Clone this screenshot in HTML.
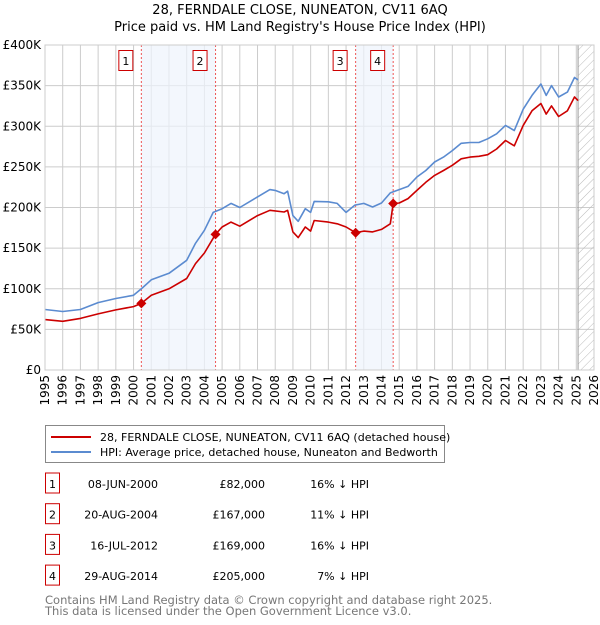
<!DOCTYPE html>
<html><head><meta charset="utf-8"><style>
body{margin:0;background:#fff;font-family:"Liberation Sans","DejaVu Sans",sans-serif;}
svg text{font-family:"DejaVu Sans","Liberation Sans",sans-serif;}
</style></head><body>
<svg id="chart" width="600" height="620" viewBox="0 0 600 620">
<text x="300" y="14" text-anchor="middle" font-size="13">28, FERNDALE CLOSE, NUNEATON, CV11 6AQ</text>
<text x="300" y="31" text-anchor="middle" font-size="13">Price paid vs. HM Land Registry's House Price Index (HPI)</text>
<g id="grid"></g>
<g id="bands"></g>
<g id="series"></g>
<g id="axes"></g>
<g id="legend">
<rect x="45.5" y="425.5" width="399" height="37" fill="#fff" stroke="#888"/>
<line x1="51" y1="437" x2="91" y2="437" stroke="#cc0000" stroke-width="2"/>
<text x="100" y="441" font-size="11">28, FERNDALE CLOSE, NUNEATON, CV11 6AQ (detached house)</text>
<line x1="51" y1="452" x2="91" y2="452" stroke="#5b8bd0" stroke-width="2"/>
<text x="100" y="456" font-size="11">HPI: Average price, detached house, Nuneaton and Bedworth</text>
</g>
<g id="table"></g>
<text x="45" y="604" font-size="11.5" fill="#777">Contains HM Land Registry data © Crown copyright and database right 2025.</text>
<text x="45" y="615" font-size="11.5" fill="#777">This data is licensed under the Open Government Licence v3.0.</text>
</svg>
<script>
const hpiYears=[1995,1996,1997,1998,1999,2000,2000.5,2001,2002,2003,2003.5,2004,2004.5,2005,2005.5,2006,2007,2007.7,2008,2008.5,2008.7,2009,2009.3,2009.7,2010,2010.2,2011,2011.5,2012,2012.5,2013,2013.5,2014,2014.5,2015,2015.5,2016,2016.5,2017,2017.5,2018,2018.5,2019,2019.5,2020,2020.5,2021,2021.5,2022,2022.5,2023,2023.3,2023.6,2024,2024.5,2024.9,2025.1];
const hpiValues=[74.5,72,74.5,83,88,92,101,111,119,135,156,172,194,198.5,205,200,213,222,221,217,220,190,183,198.5,194,207.5,207,205,194,203,205,200.6,205.5,218,222,226,237.5,245.6,256,262,270,279,280,280,284.5,290.7,301,294.8,321,338,352,338,350,336,342,360,357];
const priceYears=[1995,1996,1997,1998,1999,2000,2000.44,2001,2002,2003,2003.5,2004,2004.63,2005,2005.5,2006,2007,2007.7,2008.5,2008.7,2009,2009.3,2009.7,2010,2010.2,2011,2011.5,2012,2012.54,2013,2013.5,2014,2014.5,2014.66,2015,2015.5,2016,2016.5,2017,2017.5,2018,2018.5,2019,2019.5,2020,2020.5,2021,2021.5,2022,2022.5,2023,2023.3,2023.6,2024,2024.5,2024.9,2025.1];
const priceValues=[62,60,63.5,69,74,78,82,92,100,112.6,131,144,167,176,182,177,190,196.5,194.5,196.5,170,163,176,171,184,182,180,176,169,171,170,173,180,205,205.5,211,221,231,239.5,245.6,252,260,262,263,265,272,282.5,276,301,319,328,315,325,312,319,336,331.6];
const saleLabels=["1","2","3","4"];
const saleYears=[2000.44,2004.63,2012.54,2014.66];
const salePrices=[82,167,169,205];
const saleDates=["08-JUN-2000","20-AUG-2004","16-JUL-2012","29-AUG-2014"];
const salePriceText=["£82,000","£167,000","£169,000","£205,000"];
const saleDiffText=["16% ↓ HPI","11% ↓ HPI","16% ↓ HPI","7% ↓ HPI"];
const yTicks=[0,50,100,150,200,250,300,350,400];
const yTickLabels=["£0","£50K","£100K","£150K","£200K","£250K","£300K","£350K","£400K"];
const xTicks=[1995,1996,1997,1998,1999,2000,2001,2002,2003,2004,2005,2006,2007,2008,2009,2010,2011,2012,2013,2014,2015,2016,2017,2018,2019,2020,2021,2022,2023,2024,2025,2026];
const forecastStart=2025.1;

const NS="http://www.w3.org/2000/svg";
const X0=45,X1=594,Y0=370,Y1=45,T0=1995,T1=2026,VMAX=400;
const xs=t=>X0+(t-T0)/(T1-T0)*(X1-X0);
const ys=v=>Y0-v/VMAX*(Y0-Y1);
function mk(tag,attrs,parent){const e=document.createElementNS(NS,tag);for(const k in attrs)e.setAttribute(k,attrs[k]);parent.appendChild(e);return e;}
const grid=document.getElementById('grid'),bands=document.getElementById('bands'),series=document.getElementById('series'),axes=document.getElementById('axes'),table=document.getElementById('table');
mk('rect',{x:X0,y:Y1,width:X1-X0,height:Y0-Y1,fill:'#fff'},grid);
yTicks.forEach((v,i)=>{
 const l=mk('line',{x1:X0,x2:X1,y1:ys(v),y2:ys(v),stroke:'#ccc','stroke-width':1},grid);
 
 
 const t=mk('text',{x:X0-4,y:ys(v)+4,'text-anchor':'end','font-size':12},axes);
 t.textContent=yTickLabels[i];
 
 
});
xTicks.forEach(yr=>{
 const l=mk('line',{x1:xs(yr),x2:xs(yr),y1:Y1,y2:Y0,stroke:'#ccc','stroke-width':1},grid);
 
 
 const t=mk('text',{x:0,y:0,'text-anchor':'end','font-size':12,transform:`translate(${xs(yr)+4},${Y0+5}) rotate(-90)`},axes);
 t.textContent=yr;
 
 
});
const defs=mk('defs',{},grid);
const pat=mk('pattern',{id:'hatch',width:6,height:6,patternUnits:'userSpaceOnUse',patternTransform:'rotate(45)'},defs);
mk('line',{x1:0,y1:0,x2:0,y2:6,stroke:'#bbb','stroke-width':1},pat);
const hatch=mk('rect',{x:xs(forecastStart),y:Y1,width:X1-xs(forecastStart),height:Y0-Y1,fill:'url(#hatch)',stroke:'#999'},grid);


[[0,1],[2,3]].forEach(p=>{
 const r=mk('rect',{x:xs(saleYears[p[0]]),y:Y1,width:xs(saleYears[p[1]])-xs(saleYears[p[0]]),height:Y0-Y1,fill:'#eef3fc',opacity:0.7},bands);
 
 
});
saleYears.forEach((yr,i)=>{
 const l=mk('line',{x1:xs(yr),x2:xs(yr),y1:Y1,y2:Y0,stroke:'#e55','stroke-width':1,'stroke-dasharray':'2,2'},bands);
 
 
 const g=mk('g',{},bands);
 
 
 mk('rect',{x:xs(yr)-22.5,y:50.5,width:14,height:20,fill:'#fff',stroke:'#cc0000'},g);
 const t=mk('text',{x:xs(yr)-15.5,y:65,'text-anchor':'middle','font-size':11},g);
 t.textContent=saleLabels[i];
});
mk('rect',{x:X0,y:Y1,width:X1-X0,height:Y0-Y1,fill:'none',stroke:'#ccc'},axes);
function path(xsArr,vs,color,name){
 const d=xsArr.map((t,i)=>(i?'L':'M')+xs(t).toFixed(1)+','+ys(vs[i]).toFixed(1)).join('');
 const p=mk('path',{d:d,fill:'none',stroke:color,'stroke-width':1.6,'stroke-linejoin':'round'},series);
 
 
}
path(hpiYears,hpiValues,'#5b8bd0','hpi-line');
path(priceYears,priceValues,'#cc0000','price-paid-line');
saleYears.forEach((yr,i)=>{
 const cx=xs(yr),cy=ys(salePrices[i]);
 const d=mk('path',{d:`M${cx},${cy-5}L${cx+5},${cy}L${cx},${cy+5}L${cx-5},${cy}Z`,fill:'#cc0000'},series);
 
 
});
saleLabels.forEach((lab,i)=>{
 const y=485+i*30.7;
 const g=mk('g',{},table);
 
 
 mk('rect',{x:45.5,y:y-12,width:14,height:20,fill:'#fff',stroke:'#cc0000'},g);
 const a=mk('text',{x:52.5,y:y+3,'text-anchor':'middle','font-size':11},g);a.textContent=lab;
 const b=mk('text',{x:158,y:y+3,'text-anchor':'end','font-size':11},g);b.textContent=saleDates[i];
 const c=mk('text',{x:265,y:y+3,'text-anchor':'end','font-size':11},g);c.textContent=salePriceText[i];
 const e=mk('text',{x:369,y:y+3,'text-anchor':'end','font-size':11},g);e.textContent=saleDiffText[i];
});
</script>
</body></html>
